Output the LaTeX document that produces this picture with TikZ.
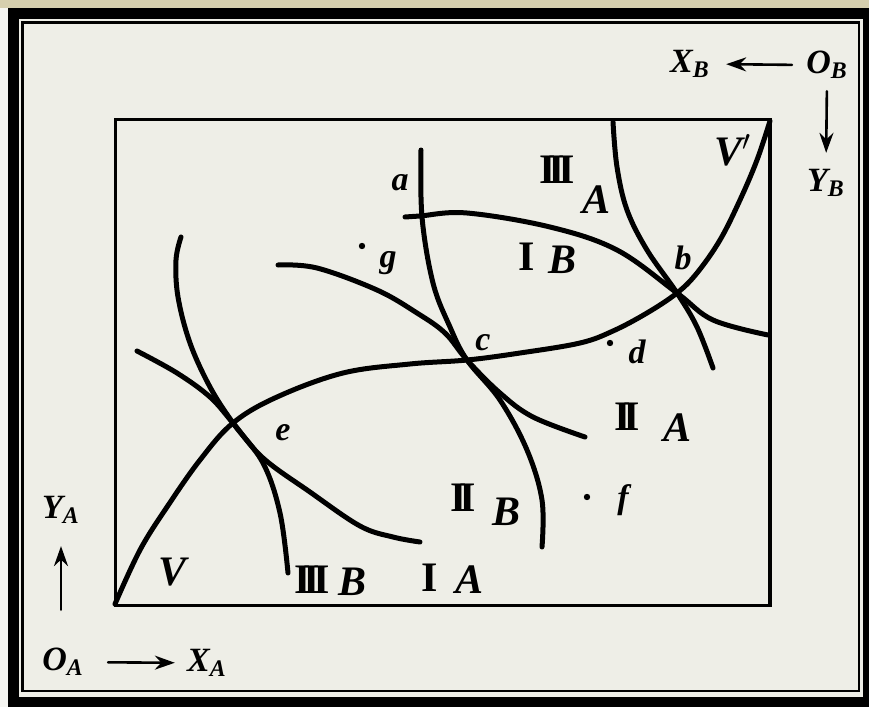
\documentclass[tikz,border=0pt]{standalone}
\usepackage{fontspec}
\setmainfont{Liberation Serif}
\usetikzlibrary{arrows.meta}
\definecolor{paper}{HTML}{EEEEE7}
\definecolor{strip}{HTML}{D6CFAE}
\newcommand{\rmII}{I\kern-3.5pt I}
\newcommand{\rmIII}{I\kern-3.5pt I\kern-3.5pt I}
\begin{document}
\begin{tikzpicture}[x=0.5pt, y=-0.5pt, line cap=round,
  curve/.style={line width=2.5pt, line join=round},
  lbl/.style={inner sep=0pt, font=\fontsize{17}{20}\selectfont\bfseries\itshape},
  big/.style={inner sep=0pt, font=\fontsize{21}{24}\selectfont\bfseries\itshape},
  num/.style={inner sep=0pt, font=\fontsize{21}{24}\selectfont\bfseries},
  arr/.style={->, >={Stealth[length=10pt, width=7pt]}, line width=1.3pt}]
  \useasboundingbox (0,0) rectangle (869,707);
  \fill[paper!60!white] (0,0) rectangle (869,707);
  \fill[strip] (0,0) rectangle (869,8);
  % frame
  \fill[black, even odd rule] (8,8) rectangle (869,707) (19,19) rectangle (863,697);
  \fill[paper] (19,19) rectangle (863,697);
  \draw[line width=1.4pt] (22.5,22.5) rectangle (859,691);
  \draw[line width=1.7pt] (115.5,119.5) rectangle (770,605.5);
  % contract curve V V'
  \draw[curve] plot[smooth, tension=0.6] coordinates {(115,604) (140,550) (167,507) (200,460) (233,423) (277,397) (343,373) (410,364) (467,360) (520,353) (580,343) (613,331) (647,313) (677,293) (697,273) (720,240) (740,200) (757,160) (770,121)};
  % indifference curves of A
  \draw[curve] plot[smooth, tension=0.6] coordinates {(137,351) (177,373) (210,397) (233,423) (263,458) (310,492) (360,526) (393,537) (420,542)};
  \draw[curve] plot[smooth, tension=0.6] coordinates {(278,265) (317,268) (377,290) (417,313) (445,333) (467,360) (500,393) (533,417) (585,437)};
  \draw[curve] plot[smooth, tension=0.6] coordinates {(613,122) (617,167) (627,210) (647,250) (677,293) (697,327) (713,368)};
  % indifference curves of B
  \draw[curve] plot[smooth, tension=0.6] coordinates {(181,237) (176,260) (178,297) (190,343) (210,387) (233,423) (263,463) (280,513) (288,573)};
  \draw[curve] plot[smooth, tension=0.6] coordinates {(421,150) (422,217) (433,283) (450,327) (467,360) (500,400) (527,450) (542,500) (542,547)};
  \draw[curve] plot[smooth, tension=0.6] coordinates {(405,217) (420,216) (467,213) (550,227) (617,250) (677,293) (713,320) (768,335)};
  % points
  \fill (362,246) circle (3.2);
  \fill (610,343) circle (3.2);
  \fill (587,497) circle (3.2);
  \node[lbl] (la) at (400,183) {a};
  \node[lbl] (lb) at (683,258) {b};
  \node[lbl] (lc) at (483,343) {c};
  \node[lbl] (ld) at (637,352) {d};
  \node[lbl] (le) at (283,433) {e};
  \node[lbl] (lf) at (623,500) {f};
  \node[lbl] (lg) at (388,263) {g};
  \node[big] (V) at (173,572) {V};
  \node[big] (Vp) at (733,150) {V$'$};
  % curve labels
  \node[num] (n3a) at (557,170) {\rmIII};
  \node[big] (A3) at (597,200) {A};
  \node[num] (n1b) at (527,257) {I};
  \node[big] (B1) at (563,260) {B};
  \node[num] (n2a) at (627,417) {\rmII};
  \node[big] (A2) at (678,428) {A};
  \node[num] (n2b) at (463,498) {\rmII};
  \node[big] (B2) at (507,512) {B};
  \node[num] (n3b) at (312,580) {\rmIII};
  \node[big] (B3) at (353,582) {B};
  \node[num] (n1a) at (430,578) {I};
  \node[big] (A1) at (470,580) {A};
  % axes of the two consumers
  \node[lbl] (OA) at (63,662) {O\textsubscript{A}};
  \node[lbl] (XA) at (207,663) {X\textsubscript{A}};
  \node[lbl] (YA) at (61,510) {Y\textsubscript{A}};
  \node[lbl] (OB) at (827,65) {O\textsubscript{B}};
  \node[lbl] (XB) at (690,64) {X\textsubscript{B}};
  \node[lbl] (YB) at (826,183) {Y\textsubscript{B}};
  \draw[arr, shorten <=12pt, shorten >=6pt] (OA) -- (XA);
  \draw[arr, shorten <=19pt, shorten >=11pt] (YA |- OA.north) -- (YA.south);
  \draw[arr, shorten <=7pt, shorten >=8pt] (OB.west) -- (XB.east);
  \draw[arr, shorten <=6pt, shorten >=8pt] (OB.south) -- (YB.north);
\end{tikzpicture}
\end{document}
